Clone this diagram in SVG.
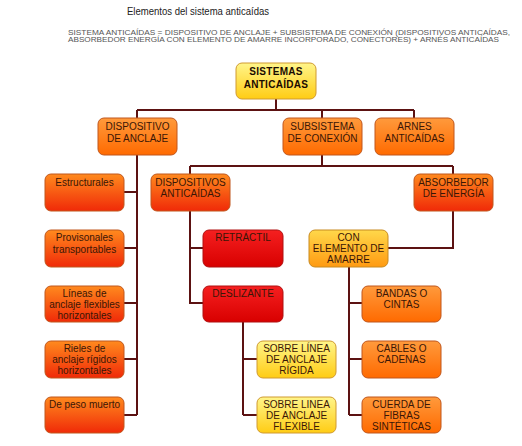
<svg xmlns="http://www.w3.org/2000/svg" width="522" height="446" viewBox="0 0 522 446">
<defs>
<linearGradient id="gY" x1="0" y1="0" x2="0" y2="1"><stop offset="0" stop-color="#fff58a"/><stop offset="1" stop-color="#ffcc14"/></linearGradient>
<linearGradient id="gO" x1="0" y1="0" x2="0" y2="1"><stop offset="0" stop-color="#ff9a3c"/><stop offset="1" stop-color="#ff6a00"/></linearGradient>
<linearGradient id="gOR" x1="0" y1="0" x2="0" y2="1"><stop offset="0" stop-color="#ff8a1e"/><stop offset="1" stop-color="#f02a08"/></linearGradient>
<linearGradient id="gR" x1="0" y1="0" x2="0" y2="1"><stop offset="0" stop-color="#f52020"/><stop offset="1" stop-color="#d80000"/></linearGradient>
<linearGradient id="gG" x1="0" y1="0" x2="0" y2="1"><stop offset="0" stop-color="#ffd84a"/><stop offset="1" stop-color="#ff9a12"/></linearGradient>
</defs>
<style>
.t{font-family:"Liberation Sans",Arial,sans-serif;font-size:10px;fill:#3a1606;text-anchor:middle}
.b{font-weight:bold;fill:#1a0a00}
.box{stroke:#c0561c;stroke-width:1}
.y{fill:url(#gY);stroke:#d09a30}
.o{fill:url(#gO)}
.or{fill:url(#gOR)}
.r{fill:url(#gR);stroke:#b01010}
.g{fill:url(#gG);stroke:#c88a20}
.c{fill:none;stroke:#5c1212;stroke-width:2}
.h{font-family:"Liberation Sans",Arial,sans-serif}
</style>
<rect width="522" height="446" fill="#ffffff"/>
<text class="h" x="127" y="15" font-size="10" fill="#222" textLength="142" lengthAdjust="spacingAndGlyphs">Elementos del sistema anticaídas</text>
<text class="h" x="68" y="35" font-size="6.5" fill="#555" textLength="442" lengthAdjust="spacingAndGlyphs">SISTEMA ANTICAÍDAS = DISPOSITIVO DE ANCLAJE + SUBSISTEMA DE CONEXIÓN (DISPOSITIVOS ANTICAÍDAS,</text>
<text class="h" x="68" y="42" font-size="6.5" fill="#555" textLength="431" lengthAdjust="spacingAndGlyphs">ABSORBEDOR ENERGÍA CON ELEMENTO DE AMARRE INCORPORADO, CONECTORES) + ARNÉS ANTICAÍDAS</text>

<g id="connectors">
<path class="c" d="M276 99V110M137 110H414M137 110V118M322 110V118M414 110V118"/>
<path class="c" d="M137 155V415M124 192H137M124 248H137M124 303H137M124 359H137M124 415H137"/>
<path class="c" d="M322 155V166M190 166H453M190 166V174M453 166V174"/>
<path class="c" d="M190 211V303H203M190 248H203"/>
<path class="c" d="M453 211V248H388"/>
<path class="c" d="M349 267V415M349 303H362M349 359H362M349 415H362"/>
<path class="c" d="M243 322V415M243 359H257M243 415H257"/>
</g>

<g id="n-root"><rect class="box y" x="236" y="63" width="80" height="36" rx="6"/><text class="t b" x="276" y="75" letter-spacing="0.3">SISTEMAS</text><text class="t b" x="276" y="88" letter-spacing="0.3">ANTICAÍDAS</text></g>
<g id="n-anclaje"><rect class="box o" x="98" y="118" width="79" height="37" rx="6"/><text class="t" x="137.5" y="130">DISPOSITIVO</text><text class="t" x="137.5" y="142">DE ANCLAJE</text></g>
<g id="n-subsistema"><rect class="box o" x="283" y="118" width="79" height="37" rx="6"/><text class="t" x="322.5" y="130">SUBSISTEMA</text><text class="t" x="322.5" y="142">DE CONEXIÓN</text></g>
<g id="n-arnes"><rect class="box o" x="375" y="118" width="79" height="37" rx="6"/><text class="t" x="414.5" y="130">ARNES</text><text class="t" x="414.5" y="142">ANTICAÍDAS</text></g>

<g id="n-estructurales"><rect class="box or" x="45" y="174" width="79" height="37" rx="6"/><text class="t" x="84.5" y="186">Estructurales</text></g>
<g id="n-provisonales"><rect class="box or" x="45" y="230" width="79" height="37" rx="6"/><text class="t" x="84.5" y="241">Provisonales</text><text class="t" x="84.5" y="253">transportables</text></g>
<g id="n-lineas"><rect class="box or" x="45" y="286" width="79" height="36" rx="6"/><text class="t" x="84.5" y="297">Líneas de</text><text class="t" x="84.5" y="308">anclaje flexibles</text><text class="t" x="84.5" y="319">horizontales</text></g>
<g id="n-rieles"><rect class="box or" x="45" y="341" width="79" height="37" rx="6"/><text class="t" x="84.5" y="352">Rieles de</text><text class="t" x="84.5" y="363">anclaje rígidos</text><text class="t" x="84.5" y="374">horizontales</text></g>
<g id="n-peso"><rect class="box or" x="45" y="397" width="79" height="36" rx="6"/><text class="t" x="84.5" y="408">De peso muerto</text></g>

<g id="n-dispositivos"><rect class="box or" x="151" y="174" width="79" height="37" rx="6"/><text class="t" x="190.5" y="186">DISPOSITIVOS</text><text class="t" x="190.5" y="197">ANTICAÍDAS</text></g>
<g id="n-absorbedor"><rect class="box or" x="414" y="174" width="79" height="37" rx="6"/><text class="t" x="453.5" y="186">ABSORBEDOR</text><text class="t" x="453.5" y="197">DE ENERGÍA</text></g>

<g id="n-retractil"><rect class="box r" x="203" y="230" width="80" height="37" rx="6"/><text class="t" x="243" y="241">RETRÁCTIL</text></g>
<g id="n-deslizante"><rect class="box r" x="203" y="286" width="80" height="36" rx="6"/><text class="t" x="243" y="297">DESLIZANTE</text></g>

<g id="n-conelemento"><rect class="box g" x="309" y="230" width="79" height="37" rx="6"/><text class="t" x="348.5" y="241">CON</text><text class="t" x="348.5" y="252">ELEMENTO DE</text><text class="t" x="348.5" y="263">AMARRE</text></g>

<g id="n-bandas"><rect class="box o" x="362" y="286" width="79" height="36" rx="6"/><text class="t" x="401.5" y="297">BANDAS O</text><text class="t" x="401.5" y="308">CINTAS</text></g>
<g id="n-cables"><rect class="box o" x="362" y="341" width="79" height="37" rx="6"/><text class="t" x="401.5" y="352">CABLES O</text><text class="t" x="401.5" y="363">CADENAS</text></g>
<g id="n-cuerda"><rect class="box o" x="362" y="397" width="79" height="36" rx="6"/><text class="t" x="401.5" y="408">CUERDA DE</text><text class="t" x="401.5" y="419">FIBRAS</text><text class="t" x="401.5" y="430">SINTÉTICAS</text></g>

<g id="n-rigida"><rect class="box y" x="257" y="341" width="79" height="37" rx="6"/><text class="t" x="296.5" y="352">SOBRE LÍNEA</text><text class="t" x="296.5" y="363">DE ANCLAJE</text><text class="t" x="296.5" y="374">RÍGIDA</text></g>
<g id="n-flexible"><rect class="box y" x="257" y="397" width="79" height="36" rx="6"/><text class="t" x="296.5" y="408">SOBRE LINEA</text><text class="t" x="296.5" y="419">DE ANCLAJE</text><text class="t" x="296.5" y="430">FLEXIBLE</text></g>
</svg>
